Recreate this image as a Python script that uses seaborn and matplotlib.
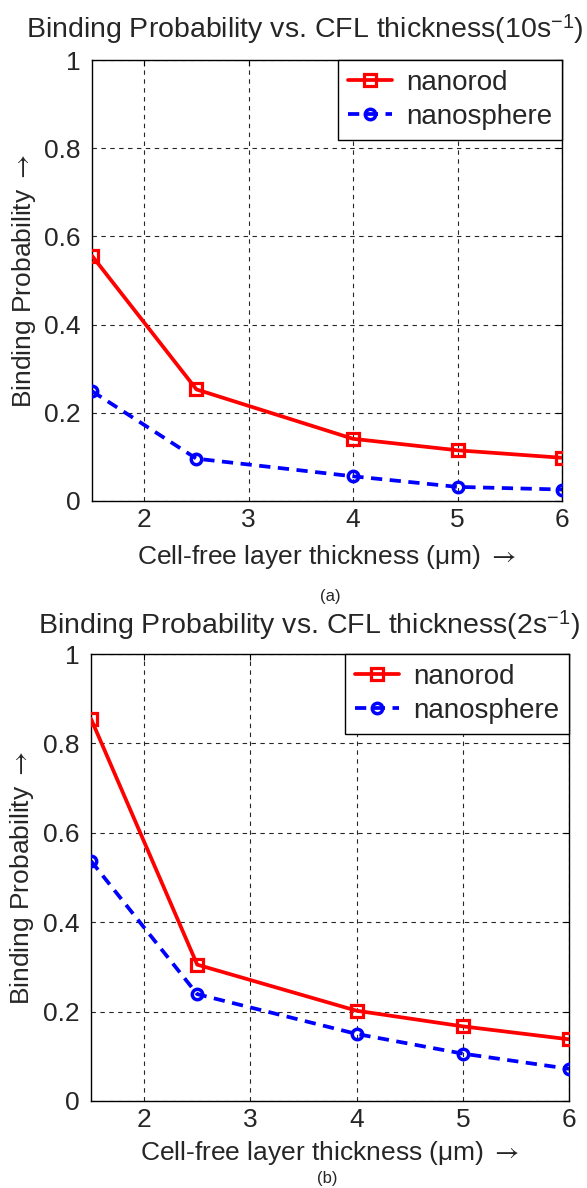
import numpy as np
import pandas as pd
import matplotlib
matplotlib.use("Agg")
import matplotlib.pyplot as plt
import seaborn as sns

# ---- data ----
thickness = [1.5, 2.5, 4, 5, 6]
rod_10 = [0.556, 0.253, 0.141, 0.115, 0.098]
sphere_10 = [0.249, 0.096, 0.056, 0.032, 0.026]
rod_2 = [0.855, 0.305, 0.202, 0.167, 0.138]
sphere_2 = [0.537, 0.239, 0.150, 0.106, 0.072]
series_names = ["nanorod", "nanosphere"]
titles = ["Binding Probability vs. CFL thickness(10s$^{\\mathregular{-1}}$)",
          "Binding Probability vs. CFL thickness(2s$^{\\mathregular{-1}}$)"]
captions = ["(a)", "(b)"]
xticks = [2, 3, 4, 5, 6]
yticks = [0, 0.2, 0.4, 0.6, 0.8, 1]
ytick_labels = ["0", "0.2", "0.4", "0.6", "0.8", "1"]
xlabel = "Cell-free layer thickness (\u03bcm) $\\rightarrow$"
ylabel = "Binding Probability $\\rightarrow$"

sns.set_theme(style="white")
plt.rcParams["font.family"] = ["Liberation Sans", "DejaVu Sans"]
plt.rcParams["mathtext.fontset"] = "stixsans"
plt.rcParams["xtick.direction"] = "in"
plt.rcParams["ytick.direction"] = "in"

fig = plt.figure(figsize=(5.87, 11.88), dpi=100)
W, H = 587, 1188

def axpos(l, r, t, b):
    return [l / W, 1 - b / H, (r - l) / W, (b - t) / H]

axes = [fig.add_axes(axpos(92, 562, 60, 501)),
        fig.add_axes(axpos(91, 569, 654, 1101))]
data = [(rod_10, sphere_10), (rod_2, sphere_2)]
xpads = [8, 5]

for i, ax in enumerate(axes):
    rod, sph = data[i]
    df = pd.DataFrame({"x": thickness * 2,
                       "y": rod + sph,
                       "s": [series_names[0]] * len(rod) + [series_names[1]] * len(sph)})
    d1 = df[df.s == series_names[0]]
    d2 = df[df.s == series_names[1]]
    sns.lineplot(data=d1, x="x", y="y", ax=ax, color="#ff0000", linewidth=2.7,
                 marker="s", markersize=8.5, markerfacecolor="none",
                 markeredgecolor="#ff0000", markeredgewidth=2.3,
                 label=series_names[0], zorder=3)
    sns.lineplot(data=d2, x="x", y="y", ax=ax, color="#0000ff", linewidth=2.7,
                 linestyle=(0, (3, 2)), marker="o", markersize=7.5,
                 markerfacecolor="none", markeredgecolor="#0000ff",
                 markeredgewidth=2.5, label=series_names[1], zorder=3)
    ax.set_xlim(1.5, 6)
    ax.set_ylim(0, 1)
    ax.set_xticks(xticks)
    ax.set_xticklabels([str(t) for t in xticks])
    ax.set_yticks(yticks)
    ax.set_yticklabels(ytick_labels)
    ax.tick_params(labelsize=19, length=4, width=0.8, color="black",
                   top=True, right=True)
    ax.tick_params(axis="y", pad=8)
    ax.tick_params(axis="x", pad=5)
    ax.grid(True, color="0.15", linestyle=(0, (4, 4)), linewidth=0.8)
    for sp in ax.spines.values():
        sp.set_color("black")
        sp.set_linewidth(1.0)
    ax.set_xlabel(xlabel, fontsize=19, labelpad=xpads[i])
    ax.set_ylabel(ylabel, fontsize=19)
    ax.yaxis.set_label_coords(-0.115, 0.5)
    leg = ax.legend(loc="upper right", borderaxespad=0, fontsize=20,
                    frameon=True, fancybox=False, edgecolor="black",
                    handlelength=1.6, handletextpad=0.5, labelspacing=0.3,
                    borderpad=0.35)
    leg.get_frame().set_linewidth(1.0)
    leg.get_frame().set_alpha(1)

fig.text(305 / W, 1 - 30 / H, titles[0], fontsize=20.5, ha="center", va="center")
fig.text(309 / W, 1 - 626 / H, titles[1], fontsize=20.5, ha="center", va="center")
fig.text(330 / W, 1 - 596 / H, captions[0], fontsize=12, ha="center", va="center")
fig.text(327 / W, 1 - 1178 / H, captions[1], fontsize=12, ha="center", va="center")

fig.savefig("out.png", dpi=100, facecolor="white")
